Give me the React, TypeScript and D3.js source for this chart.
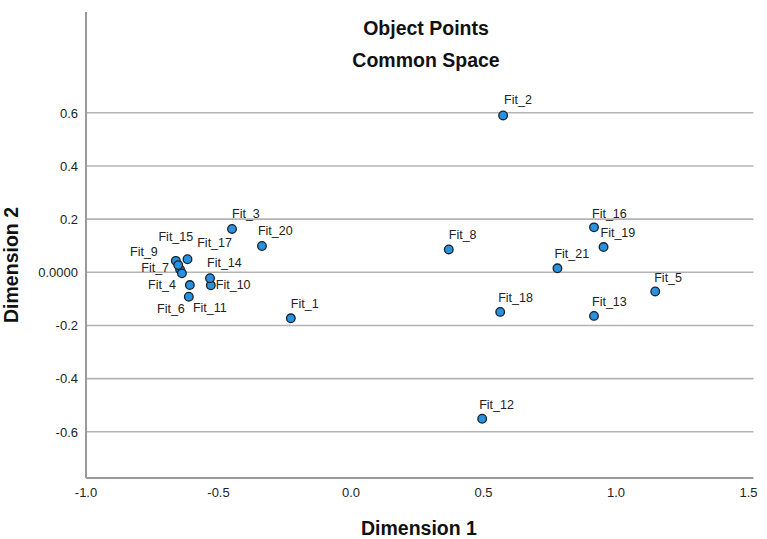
import React from "react";
import * as d3 from "d3";

const labels = ["Fit_1","Fit_2","Fit_3","Fit_4","Fit_5","Fit_6","Fit_7","Fit_8","Fit_9","Fit_10","Fit_11","Fit_12","Fit_13","Fit_14","Fit_15","Fit_16","Fit_17","Fit_18","Fit_19","Fit_20","Fit_21"];
const dim1 = [-0.227, 0.574, -0.449, -0.608, 1.148, -0.612, -0.645, 0.369, -0.661, -0.529, -0.638, 0.495, 0.917, -0.532, -0.617, 0.917, -0.652, 0.563, 0.953, -0.336, 0.779];
const dim2 = [-0.173, 0.590, 0.163, -0.048, -0.072, -0.092, 0.011, 0.086, 0.043, -0.049, -0.004, -0.551, -0.164, -0.022, 0.049, 0.169, 0.027, -0.149, 0.095, 0.099, 0.015];
// label placement offsets (px) relative to the point, and anchor
const labelDx = [0, 1, 0, -14, -1, -4, -11, 0, -18, 5, 11, -3, -2, -3, -29, -2, 19, -2, -3, -4, -3];
const labelDy = [-10, -11, -11, 4, -9, 16, 3, -10, -5, 4, 39, -10, -10, -11, -18, -9, -18, -10, -10, -11, -10];
const labelAnchor = ["start","start","start","end","start","end","end","start","end","start","start","start","start","start","start","start","start","start","start","start","start"];

const xTicks = [-1.0, -0.5, 0.0, 0.5, 1.0, 1.5];
const yTicks = [0.6, 0.4, 0.2, 0.0, -0.2, -0.4, -0.6];
const yTickLabels = ["0.6", "0.4", "0.2", "0.0000", "-0.2", "-0.4", "-0.6"];

const W = 767, H = 539;
const FONT = "Arial, 'Liberation Sans', sans-serif";

export default function App() {
  const x = d3.scaleLinear().domain([-1.0, 1.5]).range([86, 748.5]);
  const y = d3.scaleLinear().domain([0, 0.6]).range([272.3, 112.8]);
  const left = x(-1.0);
  const right = x(1.5) + 5;
  const top = 12;
  const bottom = 478;
  const pts = labels.map((l, i) => ({ l, x: dim1[i], y: dim2[i], dx: labelDx[i], dy: labelDy[i], a: labelAnchor[i] }));
  return (
    <svg width={W} height={H} style={{ position: "absolute", left: 0, top: 0, background: "#fff" }} fontFamily={FONT}>
      <rect width={W} height={H} fill="#fff" />
      <text x={426} y={35} textAnchor="middle" fontSize={19.5} fontWeight="bold" fill="#111">Object Points</text>
      <text x={426} y={67} textAnchor="middle" fontSize={19.5} fontWeight="bold" fill="#111">Common Space</text>
      {yTicks.map((t, i) => (
        <g key={i}>
          <line x1={left} x2={right} y1={y(t)} y2={y(t)} stroke="#b4b4b4" strokeWidth={1.6} />
          <text x={78} y={y(t) + 4.7} textAnchor="end" fontSize={13} fill="#222">{yTickLabels[i]}</text>
        </g>
      ))}
      <line x1={left} x2={left} y1={top} y2={bottom} stroke="#9a9a9a" strokeWidth={2} />
      <line x1={left} x2={right} y1={bottom} y2={bottom} stroke="#9a9a9a" strokeWidth={2} />
      {xTicks.map((t, i) => (
        <text key={i} x={x(t)} y={497} textAnchor="middle" fontSize={13} fill="#222">{t.toFixed(1)}</text>
      ))}
      <text x={419} y={535} textAnchor="middle" fontSize={19.5} fontWeight="bold" fill="#111">Dimension 1</text>
      <text transform={`translate(18,265) rotate(-90)`} textAnchor="middle" fontSize={19.5} fontWeight="bold" fill="#111">Dimension 2</text>
      {pts.map((p, i) => (
        <circle key={"c" + i} cx={x(p.x)} cy={y(p.y)} r={4.3} fill="#2a91de" stroke="#15202b" strokeWidth={1.3} />
      ))}
      {pts.map((p, i) => (
        <text key={"t" + i} x={x(p.x) + p.dx} y={y(p.y) + p.dy} textAnchor={p.a} fontSize={12.5} fill="#222">{p.l}</text>
      ))}
    </svg>
  );
}
